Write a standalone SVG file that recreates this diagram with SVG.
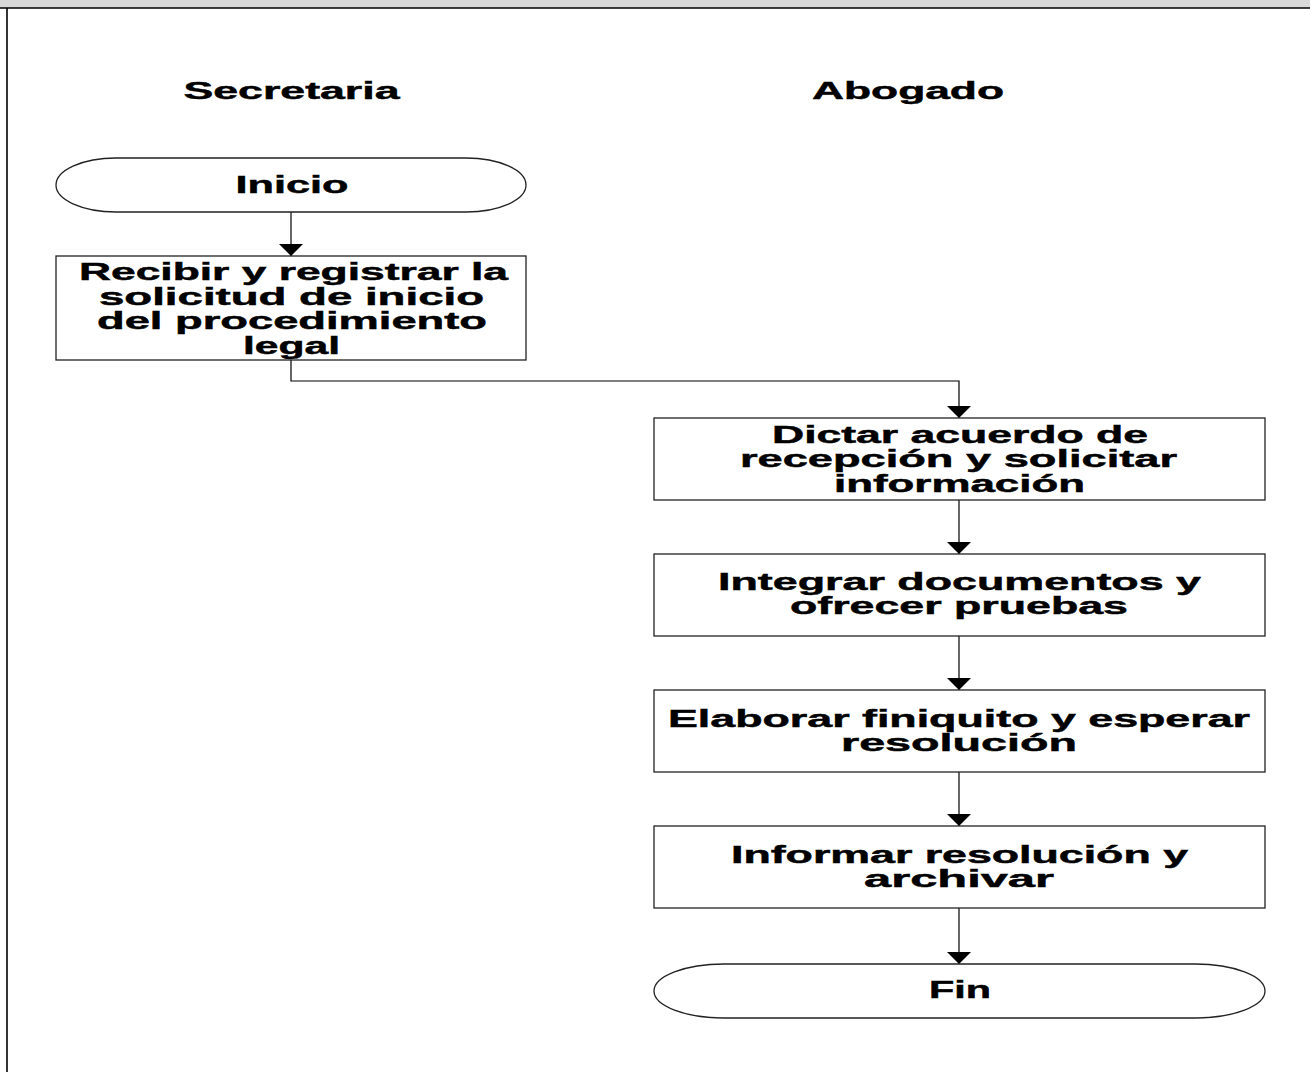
<svg xmlns="http://www.w3.org/2000/svg" width="1310" height="1072" viewBox="0 0 1310 1072">
  <style>
    .frame { stroke: #000; stroke-width: 1.6; fill: none; }
    .box { fill: #fff; stroke: #222; stroke-width: 1.3; }
    .edge { fill: none; stroke: #000; stroke-width: 1.2; }
    text { font-family: "Liberation Sans", Arial, sans-serif; font-weight: bold; font-size: 23.5px; fill: #000; stroke: #000; stroke-width: 0.45; text-anchor: middle; }
  </style>
  <defs>
    <marker id="arrow" markerUnits="userSpaceOnUse" markerWidth="13" markerHeight="24" refX="12" refY="12" orient="auto">
      <path d="M0,0 L12,12 L0,24 Z" fill="#000"/>
    </marker>
  </defs>

  <rect width="1310" height="1072" fill="#fff"/>

  <!-- page header strip and left margin -->
  <rect x="0" y="0" width="1310" height="8" fill="#d9d9d9"/>
  <line class="frame" x1="0" y1="8" x2="1310" y2="8"/>
  <line class="frame" x1="7" y1="8" x2="7" y2="1072"/>

  <!-- lane titles -->
  <g id="lane-secretaria">
    <text x="291.5" y="99" textLength="216" lengthAdjust="spacingAndGlyphs">Secretaria</text>
  </g>
  <g id="lane-abogado">
    <text x="908" y="99" textLength="192" lengthAdjust="spacingAndGlyphs">Abogado</text>
  </g>

  <!-- connectors -->
  <g id="connectors">
    <path class="edge" d="M291,212 V256" marker-end="url(#arrow)"/>
    <path class="edge" d="M291,360 V381 H959 V418" marker-end="url(#arrow)"/>
    <path class="edge" d="M959,500 V554" marker-end="url(#arrow)"/>
    <path class="edge" d="M959,636 V690" marker-end="url(#arrow)"/>
    <path class="edge" d="M959,772 V826" marker-end="url(#arrow)"/>
    <path class="edge" d="M959,908 V964" marker-end="url(#arrow)"/>
  </g>

  <g id="inicio">
    <rect class="box" x="56" y="158" width="470" height="54" rx="60" ry="27"/>
    <text x="292" y="193" textLength="113" lengthAdjust="spacingAndGlyphs">Inicio</text>
  </g>

  <g id="recibir">
    <rect class="box" x="56" y="256" width="470" height="104"/>
    <text x="293.5" y="280" textLength="429" lengthAdjust="spacingAndGlyphs">Recibir y registrar la</text>
    <text x="291.5" y="305" textLength="385" lengthAdjust="spacingAndGlyphs">solicitud de inicio</text>
    <text x="292" y="329" textLength="390" lengthAdjust="spacingAndGlyphs">del procedimiento</text>
    <text x="291.5" y="354" textLength="97" lengthAdjust="spacingAndGlyphs">legal</text>
  </g>

  <g id="dictar">
    <rect class="box" x="654" y="418" width="611" height="82"/>
    <text x="960" y="443" textLength="376" lengthAdjust="spacingAndGlyphs">Dictar acuerdo de</text>
    <text x="958.5" y="467" textLength="437" lengthAdjust="spacingAndGlyphs">recepción y solicitar</text>
    <text x="959.5" y="492" textLength="251" lengthAdjust="spacingAndGlyphs">información</text>
  </g>

  <g id="integrar">
    <rect class="box" x="654" y="554" width="611" height="82"/>
    <text x="959.5" y="590" textLength="483" lengthAdjust="spacingAndGlyphs">Integrar documentos y</text>
    <text x="959" y="614" textLength="338" lengthAdjust="spacingAndGlyphs">ofrecer pruebas</text>
  </g>

  <g id="elaborar">
    <rect class="box" x="654" y="690" width="611" height="82"/>
    <text x="959" y="727" textLength="582" lengthAdjust="spacingAndGlyphs">Elaborar finiquito y esperar</text>
    <text x="959" y="751" textLength="236" lengthAdjust="spacingAndGlyphs">resolución</text>
  </g>

  <g id="informar">
    <rect class="box" x="654" y="826" width="611" height="82"/>
    <text x="959.5" y="863" textLength="457" lengthAdjust="spacingAndGlyphs">Informar resolución y</text>
    <text x="959" y="887" textLength="190" lengthAdjust="spacingAndGlyphs">archivar</text>
  </g>

  <g id="fin">
    <rect class="box" x="654" y="964" width="611" height="54" rx="70" ry="27"/>
    <text x="960" y="998" textLength="62" lengthAdjust="spacingAndGlyphs">Fin</text>
  </g>
</svg>
